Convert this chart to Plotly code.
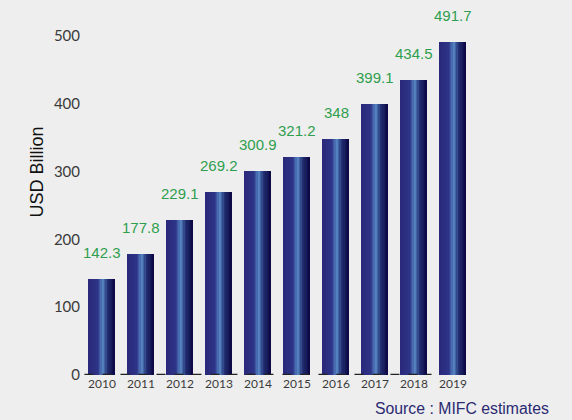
import plotly.graph_objects as go

years = ["2010", "2011", "2012", "2013", "2014", "2015", "2016", "2017", "2018", "2019"]
values = [142.3, 177.8, 229.1, 269.2, 300.9, 321.2, 348, 399.1, 434.5, 491.7]
labels = ["142.3", "177.8", "229.1", "269.2", "300.9", "321.2", "348", "399.1", "434.5", "491.7"]
y_ticks = [0, 100, 200, 300, 400, 500]

# horizontal gradient across each bar, drawn as thin overlaid strips
stops = [(0.0, (42, 40, 122)), (0.35, (45, 52, 135)), (0.55, (90, 140, 200)),
         (0.72, (36, 50, 118)), (1.0, (12, 6, 66))]


def grad(t):
    for (t0, c0), (t1, c1) in zip(stops, stops[1:]):
        if t0 <= t <= t1:
            f = (t - t0) / (t1 - t0)
            return "rgb(%d,%d,%d)" % tuple(round(a + (b - a) * f) for a, b in zip(c0, c1))
    return "rgb(%d,%d,%d)" % stops[-1][1]


fig = go.Figure()

bar_w = 0.67
n = 20
step = bar_w / n
for i in range(n):
    fig.add_trace(go.Bar(
        x=years, y=values,
        width=step * 1.05, offset=-bar_w / 2 + i * step,
        marker=dict(color=grad((i + 0.5) / n), line=dict(width=0)),
        hoverinfo="skip", showlegend=False,
    ))

fig.add_shape(type="line", xref="x", yref="y", x0=-0.45, x1=8.45, y0=0, y1=0,
              line=dict(color="#222222", width=2.5, dash="dash"), layer="above")

# value labels (category index used so "2010" is not read as a position)
for i, (v, t) in enumerate(zip(values, labels)):
    fig.add_annotation(x=i, y=v, text=t, showarrow=False, yanchor="bottom", yshift=16,
                       font=dict(family="Liberation Sans", size=15, color="#2e9e4e"))

fig.add_annotation(x=-0.143, y=0.6, xref="paper", yref="paper", textangle=-90,
                   text="USD Billion", showarrow=False,
                   font=dict(family="Liberation Sans", size=18, color="#111111"))

fig.add_annotation(x=1.195, y=-0.1, xref="paper", yref="paper", xanchor="right", yanchor="middle",
                   text="Source : MIFC estimates", showarrow=False,
                   font=dict(family="Liberation Sans", size=15.8, color="#2b2a72"))

fig.update_layout(
    width=572, height=420,
    barmode="overlay", bargap=0,
    margin=dict(l=81, r=98, t=36, b=45),
    paper_bgcolor="#eeeeee", plot_bgcolor="rgba(0,0,0,0)",
    xaxis=dict(type="category", showgrid=False, showline=False, ticks="",
               tickfont=dict(family="Lato", size=12, color="#3a3a3a")),
    yaxis=dict(range=[0, 500], tickvals=y_ticks, showgrid=False, zeroline=False,
               showline=False, ticks="",
               tickfont=dict(family="Lato", size=15, color="#3a3a3a")),
)

fig.write_html("out.html", config={"displayModeBar": False},
               post_script="document.body.style.margin='0';")
